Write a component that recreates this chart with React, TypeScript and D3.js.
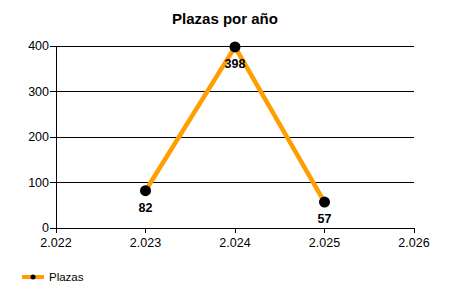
import React from "react";
import * as d3 from "d3";

const years = [2023, 2024, 2025];
const plazas = [82, 398, 57];
const xTicks = [2022, 2023, 2024, 2025, 2026];
const yTicks = [0, 100, 200, 300, 400];
const seriesName = "Plazas";
const title = "Plazas por año";

export default function App() {
  const W = 450, H = 300;
  const m = { l: 56, r: 36, t: 46, b: 72 };
  const x = d3.scaleLinear().domain([2022, 2026]).range([m.l, W - m.r]);
  const y = d3.scaleLinear().domain([0, 400]).range([H - m.b, m.t]);
  const line = d3.line<number>().x((_, i) => x(years[i])).y((d) => y(d));
  const fmt = (v: number) => (v / 1000).toFixed(3);
  const font = "'Liberation Sans', Arial, sans-serif";
  const orange = "#FF9E00";
  return (
    <svg width={W} height={H} style={{ position: "absolute", left: 0, top: 0, fontFamily: font }}>
      <rect width={W} height={H} fill="#fff" />
      <text x={225} y={24} textAnchor="middle" fontSize={15} fontWeight="bold">{title}</text>
      {yTicks.map((t) => (
        <g key={t}>
          <line x1={m.l} x2={W - m.r} y1={y(t)} y2={y(t)} stroke="#000" strokeWidth={1} shapeRendering="crispEdges" />
          <line x1={m.l - 6} x2={m.l} y1={y(t)} y2={y(t)} stroke="#000" shapeRendering="crispEdges" />
          <text x={m.l - 7} y={y(t)} dy="0.35em" textAnchor="end" fontSize={12.5}>{t}</text>
        </g>
      ))}
      <line x1={m.l} x2={m.l} y1={m.t} y2={y(0)} stroke="#000" shapeRendering="crispEdges" />
      {xTicks.map((t) => (
        <g key={t}>
          <line x1={x(t)} x2={x(t)} y1={y(0)} y2={y(0) + 5} stroke="#000" shapeRendering="crispEdges" />
          <text x={x(t)} y={y(0) + 19} textAnchor="middle" fontSize={12.5}>{fmt(t)}</text>
        </g>
      ))}
      <path d={line(plazas) || ""} fill="none" stroke={orange} strokeWidth={4.5} strokeLinejoin="round" />
      {plazas.map((v, i) => (
        <g key={i}>
          <circle cx={x(years[i])} cy={y(v)} r={5.5} fill="#000" />
          <text x={x(years[i])} y={y(v) + 21} textAnchor="middle" fontSize={12.5} fontWeight="bold">{v}</text>
        </g>
      ))}
      <line x1={22} x2={44} y1={277} y2={277} stroke={orange} strokeWidth={4} />
      <circle cx={33} cy={277} r={2.5} fill="#000" />
      <text x={49} y={277} dy="0.35em" fontSize={11.5}>{seriesName}</text>
    </svg>
  );
}
